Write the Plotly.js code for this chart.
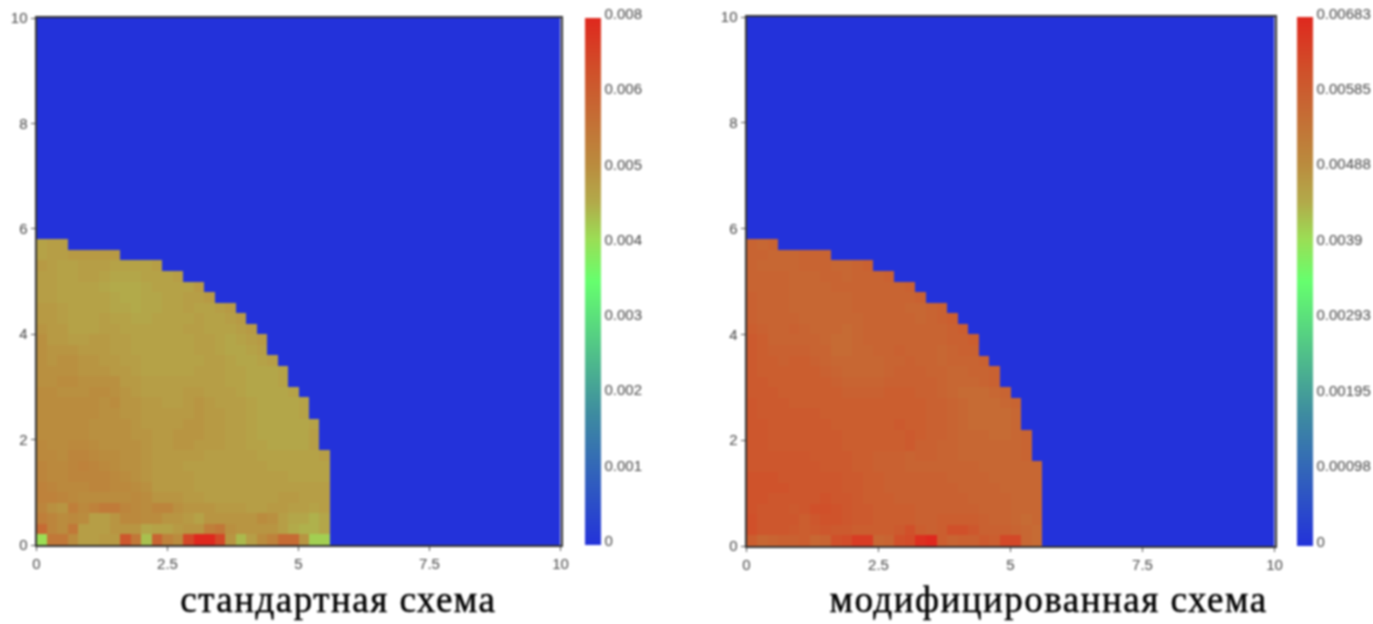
<!DOCTYPE html>
<html><head><meta charset="utf-8">
<script src="https://cdn.plot.ly/plotly-3.0.1.min.js"></script>
<style>
html,body{margin:0;padding:0;background:#fff;overflow:hidden}
#plot{width:1373px;height:624px;filter:blur(1px)}
.annotation text{letter-spacing:1.5px;stroke:#000;stroke-width:.5px}
</style></head><body><div id="plot"></div>
<script>
// Cell values, in units of 1e-5, bottom row first. Cells beyond the end of a row are 0.
const standardRows = [
[464,624,624,576,544,544,552,552,704,624,496,672,600,576,736,800,800,736,560,504,544,576,600,656,656,560,480,480],
[656,592,576,624,544,544,544,560,560,560,528,536,536,552,560,560,608,624,568,560,560,560,560,544,520,512,512,528],
[608,592,576,584,576,544,544,560,584,584,576,576,560,560,552,536,560,560,560,560,560,576,568,544,528,528,512,528],
[592,568,560,608,584,600,616,616,592,584,576,592,592,568,560,560,560,552,552,552,544,544,552,552,544,544,536,544],
[600,600,592,584,576,576,576,576,576,584,576,560,560,560,552,552,544,544,544,544,544,544,544,552,552,544,544,544],
[600,592,584,584,584,592,592,584,584,576,568,552,552,552,552,544,544,544,544,544,544,544,544,544,544,544,544,544],
[592,584,584,592,592,592,592,584,576,568,560,552,552,552,552,544,544,544,544,544,544,544,544,544,536,536,536,536],
[592,584,584,592,600,592,584,576,568,568,560,552,552,552,544,544,544,544,544,544,544,544,536,536,536,536,536,536],
[584,584,576,592,592,584,576,576,568,568,560,552,552,552,552,552,544,544,544,544,544,536,536,536,536,536,536,544],
[584,576,576,584,584,576,568,568,568,568,560,552,552,560,560,552,552,552,544,544,536,536,528,528,528,528,544],
[576,576,576,576,576,568,568,568,568,560,560,552,552,560,560,560,552,552,544,544,536,528,528,528,528,528,544],
[576,576,576,576,576,568,568,568,568,560,552,552,552,552,560,560,552,552,544,544,536,528,528,528,528,528,536],
[576,576,576,576,576,576,568,568,560,560,552,552,552,552,552,560,552,552,544,544,536,528,528,528,528,536],
[576,576,576,576,576,576,568,576,560,560,552,552,544,544,552,560,552,544,544,544,536,528,528,528,528,536],
[576,576,568,568,568,576,576,568,560,552,544,544,544,544,552,552,544,544,544,536,528,528,528,528,536],
[568,568,576,576,568,568,568,568,552,552,544,544,544,544,544,544,544,544,536,536,528,528,528,536],
[568,568,568,568,560,560,560,552,552,544,536,536,536,536,536,544,544,544,536,536,528,528,528,536],
[568,560,568,568,560,560,552,552,544,544,536,536,536,536,536,536,544,544,536,528,528,536,544],
[568,560,560,560,552,552,552,544,544,536,536,536,536,536,536,544,544,536,528,528,536,544],
[568,552,552,544,544,552,552,544,544,536,536,536,536,536,536,544,544,536,528,536,544,552],
[560,552,552,536,536,536,544,544,536,536,536,536,536,536,544,544,536,536,536,544,552],
[552,552,544,536,536,536,544,536,536,528,528,536,536,536,536,544,536,536,544,552],
[552,552,544,536,536,536,536,528,528,520,528,528,536,536,544,536,536,544,552],
[544,544,536,536,536,536,536,528,520,520,528,528,536,536,544,544,552],
[544,544,536,536,536,536,528,520,520,520,528,536,536,536,536,552],
[544,544,536,536,544,544,536,528,528,528,536,536,536,544],
[552,544,536,536,544,544,544,536,536,536,536,544],
[536,544,544,552,552,552,552,552],
[536,544,544]
];
const modifiedRows = [
[587,567,574,580,580,587,567,574,615,622,649,649,567,574,615,622,669,683,587,574,580,580,594,587,628,628,567,560],
[615,601,601,601,594,587,594,601,594,594,587,587,587,587,594,615,587,580,587,615,615,601,580,580,580,574,567,560],
[615,601,601,601,601,587,601,608,608,601,594,594,587,587,587,587,580,580,587,587,587,587,580,574,574,567,560,567],
[608,601,601,601,594,601,615,615,608,601,594,594,587,587,587,587,580,580,580,580,580,580,574,574,574,567,567,567],
[608,608,601,601,601,601,601,608,601,601,594,587,587,587,580,580,580,580,580,580,580,574,574,574,574,567,567,567],
[608,608,608,608,601,601,601,601,601,594,594,587,587,580,580,580,580,580,580,580,574,574,574,574,567,567,567,567],
[608,608,608,601,601,601,601,601,601,594,594,587,587,580,580,580,580,580,580,574,574,574,574,567,567,567,567,567],
[601,601,601,601,601,601,601,594,594,594,587,587,580,580,580,574,574,574,574,574,574,574,567,567,567,567,567,567],
[601,601,601,601,601,601,594,594,594,594,587,587,580,580,580,574,580,580,574,574,567,567,567,567,567,567,574],
[601,601,594,594,594,594,594,594,594,587,587,587,587,587,587,594,580,580,574,574,567,567,567,567,567,567,574],
[601,601,594,594,594,594,594,594,594,587,587,587,587,587,587,594,587,580,580,574,567,567,567,560,560,567,574],
[601,601,594,594,594,594,594,594,587,587,587,587,587,587,594,587,587,580,580,574,567,560,560,560,560,567],
[601,594,594,594,594,594,594,587,587,587,587,587,587,587,587,587,587,580,580,574,567,560,560,560,560,567],
[601,594,594,594,587,587,587,587,587,587,587,587,587,587,587,587,587,580,580,574,567,560,560,560,567,574],
[594,594,594,587,587,587,587,587,587,580,580,580,580,587,587,587,580,580,574,567,560,560,560,567,574],
[594,594,587,587,587,587,587,587,580,574,574,574,574,580,580,580,580,580,574,567,567,567,574,580],
[594,587,587,587,587,587,587,580,574,567,567,567,567,574,580,580,580,574,574,567,567,574,574,580],
[594,587,587,580,587,587,580,574,567,567,567,567,567,574,574,580,574,574,567,574,574,574,580],
[594,587,580,580,580,580,574,574,560,560,567,567,574,574,580,574,574,574,567,574,580,580],
[594,587,574,574,574,574,574,567,560,560,567,574,574,574,574,574,574,574,574,580,580,587],
[587,580,574,574,580,574,567,567,567,560,567,574,574,574,574,574,574,574,574,580,587],
[580,574,574,574,574,567,567,567,567,567,567,574,574,574,574,574,567,574,580,587],
[580,574,574,574,567,567,567,567,567,567,574,574,574,574,574,567,567,574,580],
[580,574,574,574,567,567,567,567,567,567,574,574,574,574,574,574,580],
[574,574,574,574,567,567,567,567,574,574,574,574,574,574,574,580],
[574,574,574,574,567,567,567,574,574,567,574,574,574,580],
[574,567,567,567,567,574,574,574,567,567,574,580],
[574,574,567,567,567,574,574,574],
[574,567,574]
];
const standardMax = 0.008, modifiedMax = 0.00683;
const standardTickVals = [0,0.00114,0.00229,0.00343,0.00457,0.00571,0.00686,0.008];
const standardTickText = ["0","0.001","0.002","0.003","0.004","0.005","0.006","0.008"];
const modifiedTickVals = [0,0.00098,0.00195,0.00293,0.0039,0.00488,0.00585,0.00682];
const modifiedTickText = ["0","0.00098","0.00195","0.00293","0.0039","0.00488","0.00585","0.00683"];
const xTicks = [0,2.5,5,7.5,10], xTickText = ["0","2.5","5","7.5","10"];
const yTicks = [0,2,4,6,8,10];
const captions = ["стандартная схема","модифицированная схема"];
const colorStops = [[0,"rgb(35,50,218)"],[0.25,"rgb(62,140,160)"],[0.5,"rgb(102,255,110)"],[0.58,"rgb(155,222,85)"],
  [0.65,"rgb(178,170,74)"],[0.68,"rgb(182,158,70)"],[0.72,"rgb(186,140,62)"],[0.84,"rgb(200,100,50)"],[0.9,"rgb(208,80,42)"],[1,"rgb(223,40,30)"]];

const W=1373,H=624,N=50,cell=0.2;
const centers=Array.from({length:N},(_,i)=>(i+0.5)*cell);
function grid(rows){
  return Array.from({length:N},(_,j)=>Array.from({length:N},(_,i)=>{
    const r=rows[j]; return (r&&r[i]!==undefined)?r[i]/1e5:0;}));
}
const font={family:'"Liberation Sans",Arial,sans-serif',size:15,color:'#444'};
function bar(leftPx,topPx,botPx,vals,text){
  return {x:leftPx/W,xanchor:'left',xpad:0,y:1-topPx/H,yanchor:'top',ypad:0,yref:'paper',
    len:(botPx-topPx)/H,lenmode:'fraction',thickness:16,thicknessmode:'pixels',outlinewidth:0,borderwidth:0,
    tickmode:'array',tickvals:vals,ticktext:text,ticks:'',ticklabelposition:'outside',tickfont:font};
}
const traces=[
 {type:'heatmap',x:centers,y:centers,z:grid(standardRows),zmin:0,zmax:standardMax,colorscale:colorStops,xaxis:'x',yaxis:'y',
  colorbar:bar(585,18,545,standardTickVals,standardTickText)},
 {type:'heatmap',x:centers,y:centers,z:grid(modifiedRows),zmin:0,zmax:modifiedMax,colorscale:colorStops,xaxis:'x2',yaxis:'y2',
  colorbar:bar(1297,17,546,modifiedTickVals,modifiedTickText)}
];
function xa(l,r,anchor){return {domain:[l/W,r/W],range:[0,10],anchor,tickmode:'array',tickvals:xTicks,ticktext:xTickText,ticks:'outside',ticklen:4,tickcolor:'#555',
  showline:true,mirror:true,linecolor:'#333',linewidth:2,showgrid:false,zeroline:false,tickfont:font};}
function ya(t,b,anchor){return {domain:[1-b/H,1-t/H],range:[0,10],anchor,tickmode:'array',tickvals:yTicks,ticks:'outside',ticklen:4,tickcolor:'#555',
  showline:true,mirror:true,linecolor:'#333',linewidth:2,showgrid:false,zeroline:false,tickfont:font};}
const capFont={family:'"Liberation Serif","Times New Roman",serif',size:37,color:'#000'};
const layout={width:W,height:H,paper_bgcolor:'#fff',plot_bgcolor:'#fff',showlegend:false,
  margin:{l:0,r:0,t:0,b:0,autoexpand:false},
  xaxis:xa(36.5,560.5,'y'),yaxis:ya(18,545,'x'),xaxis2:xa(746.5,1274.5,'y2'),yaxis2:ya(17,546,'x2'),
  annotations:[
   {text:captions[0],xref:'paper',yref:'paper',x:338/W,y:0.003,xanchor:'center',yanchor:'bottom',showarrow:false,font:capFont},
   {text:captions[1],xref:'paper',yref:'paper',x:1048/W,y:0.003,xanchor:'center',yanchor:'bottom',showarrow:false,font:capFont}
  ]};
Plotly.newPlot('plot',traces,layout,{displayModeBar:false,staticPlot:true}).then(()=>{
  document.querySelectorAll('.colorbar text').forEach(t=>{
    t.setAttribute('y',(parseFloat(t.getAttribute('y'))||0)-4);
  });
});
</script></body></html>
